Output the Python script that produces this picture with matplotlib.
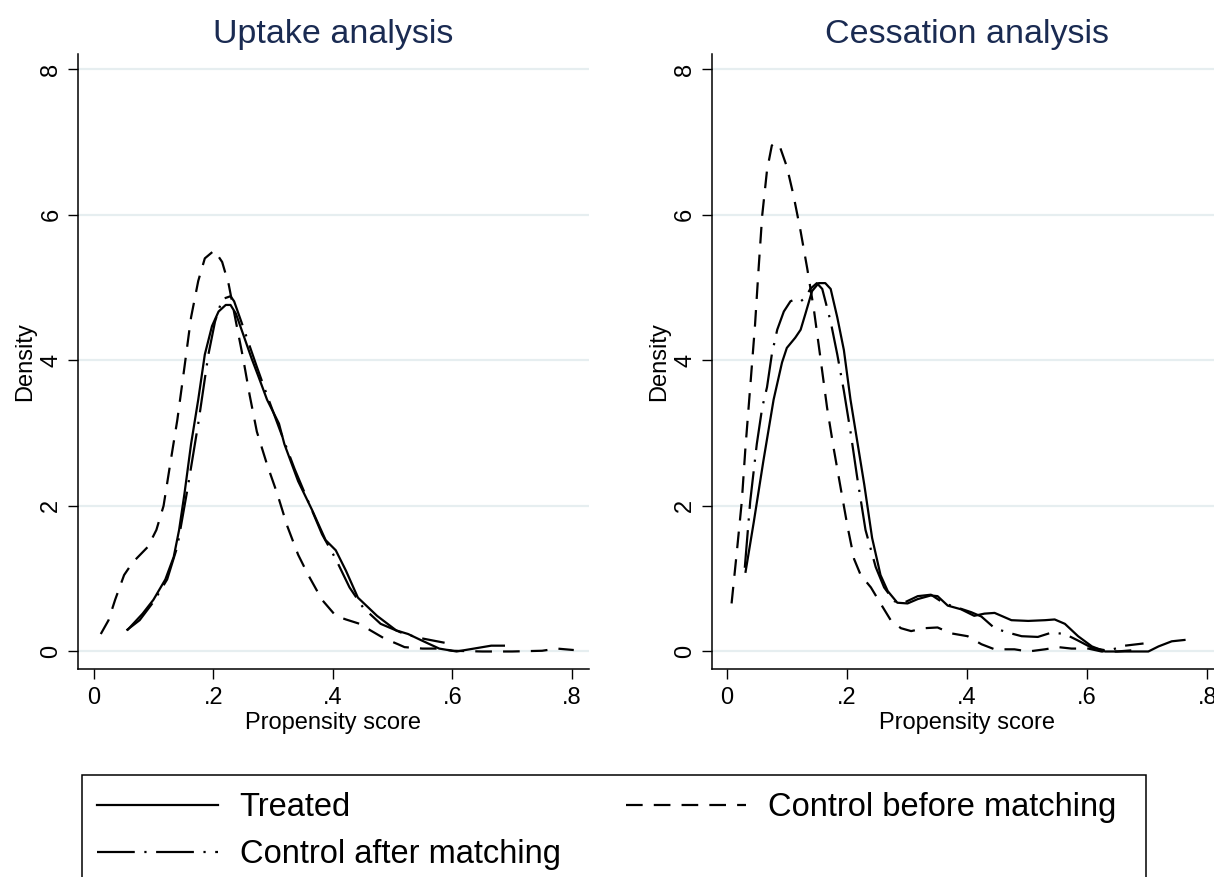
import matplotlib
matplotlib.use("Agg")
import matplotlib.pyplot as plt
from matplotlib.lines import Line2D
from matplotlib.patches import Rectangle

plt.rcParams['font.family'] = ['Liberation Sans', 'DejaVu Sans']

# ---------------- data ----------------
panel_titles = ["Uptake analysis", "Cessation analysis"]
series_labels = ["Treated", "Control after matching", "Control before matching"]
x_ticks = [0, 0.2, 0.4, 0.6, 0.8]
x_tick_labels = ["0", ".2", ".4", ".6", ".8"]
y_ticks = [0, 2, 4, 6, 8]
y_tick_labels = ["0", "2", "4", "6", "8"]

# Uptake analysis
up_treated_x = [0.056, 0.082, 0.100, 0.120, 0.134, 0.143, 0.152, 0.163, 0.175, 0.186, 0.198,
                0.209, 0.221, 0.229, 0.238, 0.250, 0.264, 0.276, 0.290, 0.310, 0.319, 0.342,
                0.365, 0.388, 0.405, 0.422, 0.442, 0.474, 0.506, 0.526, 0.549, 0.578, 0.607,
                0.636, 0.665, 0.688]
up_treated_y = [0.29, 0.52, 0.71, 0.99, 1.30, 1.67, 2.17, 2.85, 3.46, 4.08, 4.47,
                4.67, 4.76, 4.76, 4.64, 4.36, 4.03, 3.77, 3.46, 3.13, 2.85, 2.34,
                1.95, 1.53, 1.39, 1.11, 0.74, 0.49, 0.29, 0.24, 0.15, 0.04, 0.00,
                0.04, 0.08, 0.08]

up_after_x = [0.055, 0.077, 0.100, 0.123, 0.140, 0.157, 0.175, 0.192, 0.203, 0.215, 0.229,
              0.235, 0.247, 0.273, 0.290, 0.313, 0.336, 0.359, 0.382, 0.405, 0.428, 0.451,
              0.480, 0.520, 0.549, 0.587]
up_after_y = [0.29, 0.43, 0.68, 0.99, 1.44, 2.23, 3.13, 4.08, 4.53, 4.84, 4.88,
              4.81, 4.53, 3.91, 3.52, 3.01, 2.51, 2.06, 1.61, 1.27, 0.88, 0.60,
              0.38, 0.24, 0.18, 0.12]

up_before_x = [0.012, 0.025, 0.036, 0.051, 0.065, 0.091, 0.105, 0.117, 0.128, 0.140, 0.152,
               0.163, 0.175, 0.186, 0.202, 0.215, 0.226, 0.238, 0.250, 0.261, 0.273, 0.290,
               0.307, 0.324, 0.342, 0.359, 0.382, 0.405, 0.422, 0.445, 0.463, 0.486, 0.509,
               0.520, 0.550, 0.580, 0.600, 0.650, 0.700, 0.750, 0.775, 0.803]
up_before_y = [0.24, 0.43, 0.71, 1.05, 1.22, 1.44, 1.67, 2.00, 2.57, 3.18, 3.91,
               4.59, 5.09, 5.40, 5.51, 5.35, 5.04, 4.53, 4.03, 3.52, 3.02, 2.57,
               2.17, 1.72, 1.33, 1.05, 0.71, 0.49, 0.44, 0.38, 0.29, 0.18, 0.10,
               0.06, 0.04, 0.04, 0.01, 0.00, 0.00, 0.01, 0.04, 0.02]

# Cessation analysis
ce_treated_x = [0.031, 0.045, 0.061, 0.078, 0.092, 0.100, 0.114, 0.123, 0.131, 0.142, 0.153,
                0.164, 0.173, 0.184, 0.195, 0.206, 0.217, 0.229, 0.242, 0.256, 0.268, 0.284,
                0.301, 0.318, 0.340, 0.351, 0.368, 0.390, 0.412, 0.429, 0.446, 0.474, 0.502,
                0.530, 0.546, 0.563, 0.585, 0.608, 0.630, 0.663, 0.702, 0.719, 0.741, 0.764]
ce_treated_y = [1.08, 1.78, 2.62, 3.46, 3.97, 4.17, 4.31, 4.42, 4.64, 4.95, 5.06,
                5.06, 4.98, 4.59, 4.14, 3.46, 2.90, 2.29, 1.56, 1.05, 0.83, 0.67,
                0.66, 0.72, 0.77, 0.76, 0.63, 0.58, 0.49, 0.52, 0.53, 0.43, 0.42,
                0.43, 0.44, 0.38, 0.21, 0.07, 0.00, 0.00, 0.00, 0.07, 0.14, 0.16]

ce_after_x = [0.030, 0.039, 0.050, 0.059, 0.067, 0.075, 0.084, 0.095, 0.106, 0.114, 0.123,
              0.131, 0.139, 0.150, 0.159, 0.173, 0.184, 0.195, 0.206, 0.217, 0.231, 0.248,
              0.262, 0.279, 0.295, 0.318, 0.340, 0.362, 0.385, 0.407, 0.424, 0.446, 0.468,
              0.491, 0.518, 0.541, 0.563, 0.585, 0.608, 0.635, 0.663, 0.694]
ce_after_y = [1.15, 2.06, 2.85, 3.35, 3.63, 4.08, 4.42, 4.67, 4.81, 4.84, 4.81,
              4.86, 4.98, 5.06, 4.98, 4.53, 4.08, 3.58, 3.02, 2.40, 1.67, 1.16,
              0.88, 0.69, 0.67, 0.76, 0.78, 0.66, 0.60, 0.54, 0.48, 0.32, 0.26,
              0.21, 0.20, 0.26, 0.24, 0.15, 0.05, 0.01, 0.08, 0.11]

ce_before_x = [0.008, 0.017, 0.025, 0.031, 0.039, 0.047, 0.053, 0.059, 0.067, 0.075, 0.081,
               0.089, 0.100, 0.111, 0.123, 0.134, 0.145, 0.156, 0.167, 0.178, 0.190, 0.201,
               0.212, 0.223, 0.240, 0.256, 0.273, 0.290, 0.307, 0.329, 0.351, 0.373, 0.401,
               0.424, 0.446, 0.479, 0.502, 0.530, 0.552, 0.574, 0.602, 0.624, 0.650, 0.680]
ce_before_y = [0.66, 1.39, 2.06, 2.79, 3.63, 4.48, 5.26, 5.99, 6.61, 6.95, 6.99,
               6.92, 6.66, 6.27, 5.77, 5.26, 4.70, 4.03, 3.35, 2.79, 2.23, 1.72,
               1.27, 1.05, 0.88, 0.66, 0.43, 0.32, 0.28, 0.32, 0.33, 0.25, 0.21,
               0.10, 0.03, 0.03, 0.00, 0.03, 0.06, 0.04, 0.04, 0.00, 0.00, 0.02]

panels = [
    [(up_treated_x, up_treated_y), (up_after_x, up_after_y), (up_before_x, up_before_y)],
    [(ce_treated_x, ce_treated_y), (ce_after_x, ce_after_y), (ce_before_x, ce_before_y)],
]

# ---------------- styles ----------------
LW = 1.6
styles = [
    dict(color='black', linestyle='-', linewidth=LW),
    dict(color='black', linestyle=(0, (17, 4.3, 1, 4.3)), linewidth=LW),
    dict(color='black', linestyle=(0, (7.5, 5)), linewidth=LW),
]
TITLE_COLOR = '#1a2b52'
GRID_COLOR = '#e6eef0'

W, H = 1214, 877
fig = plt.figure(figsize=(W / 100, H / 100), dpi=100)

ax_bottom_px, ax_top_px = 668.6, 54.3
ax_w_px = 510.7
lefts_px = [77.9, 711.7]
xlims = [(-0.02625, 0.8278), (-0.0251, 0.8253)]
ylim = (-0.235, 8.203)

for i, (lp, data) in enumerate(zip(lefts_px, panels)):
    ax = fig.add_axes([lp / W, (H - ax_bottom_px) / H, ax_w_px / W, (ax_bottom_px - ax_top_px) / H])
    for (xs, ys), st in zip(data, styles):
        ax.plot(xs, ys, solid_capstyle='butt', dash_capstyle='butt',
                solid_joinstyle='round', **st)
    ax.set_xlim(*xlims[i])
    ax.set_ylim(*ylim)
    ax.set_xticks(x_ticks)
    ax.set_xticklabels(x_tick_labels)
    ax.set_yticks(y_ticks)
    ax.set_yticklabels(y_tick_labels, rotation=90, va='center')
    ax.tick_params(axis='both', direction='out', length=7.2, width=1.0, labelsize=17, color='black')
    ax.tick_params(axis='x', pad=6)
    ax.tick_params(axis='y', pad=4)
    ax.yaxis.grid(True, color=GRID_COLOR, linewidth=1.6)
    ax.set_axisbelow(True)
    for s in ['top', 'right']:
        ax.spines[s].set_visible(False)
    for s in ['left', 'bottom']:
        ax.spines[s].set_linewidth(1.1)
    ax.set_xlabel("Propensity score", fontsize=17, labelpad=2)
    ax.set_ylabel("Density", fontsize=17, labelpad=3)
    ax.set_title(panel_titles[i], fontsize=24.5, color=TITLE_COLOR, pad=8)

# legend box
fig.patches.append(Rectangle((82 / W, (H - 905) / H), 1064 / W, 130 / H,
                             transform=fig.transFigure, fill=False,
                             edgecolor='black', linewidth=1.1))
handles = [Line2D([], [], **st) for st in styles]
fig.legend(handles, series_labels,
           ncol=2, loc='upper left', bbox_to_anchor=(97 / W, 1 - 792 / H),
           frameon=False, fontsize=23.5, handlelength=3.7, handletextpad=0.67,
           columnspacing=1.99, borderpad=0, borderaxespad=0, labelspacing=0.5)

fig.savefig("out.png", dpi=100, facecolor='white')
